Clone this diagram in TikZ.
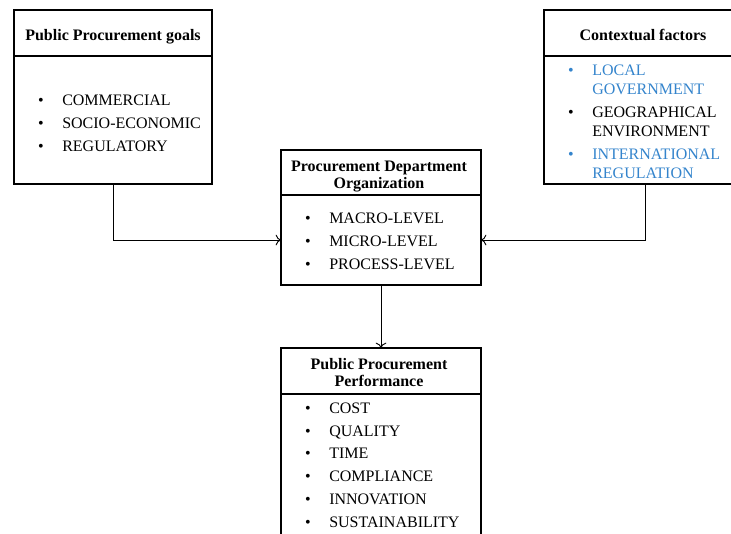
\documentclass[tikz,border=0pt]{standalone}
\usepackage{fontspec}
\setmainfont{Liberation Serif}
\usepackage{xcolor}
\usetikzlibrary{
    arrows.meta,
    positioning,
    calc
}
\definecolor{ctxblue}{RGB}{52, 132, 204}
% extra room above a node text, to push it a little lower
\newcommand{\pushdown}[2]{\raisebox{0pt}[\dimexpr\height+#1\relax]{#2}}

\begin{document}
\begin{tikzpicture}[
        x=0.75pt, y=-0.75pt,
        headbox/.style={draw, line width=1.4pt, outer sep=0pt, minimum height=34.5pt, align=center,
            inner sep=0pt, font=\fontsize{12}{12.75}\selectfont\bfseries},
        bodybox/.style={draw, line width=1.4pt, outer sep=0pt, inner xsep=18pt, inner ysep=0pt,
            align=left, font=\fontsize{12}{14.25}\selectfont},
        arrow/.style={->, line width=0.7pt, >={To[length=4pt, width=8pt]}}
    ]
        \useasboundingbox (0,0) rectangle (731,533);

        % Goals
        \node[headbox, minimum width=148.5pt] (goalshead) at (113,33) {\pushdown{6pt}{Public Procurement goals}};
        \node[bodybox, below=0pt of goalshead, minimum width=148.5pt, text width=112.5pt, minimum height=96pt] (goalsbody) {
            \pushdown{6.75pt}{\begin{tabular}{@{}l@{\hspace{14pt}}l@{}}
                \textbullet & COMMERCIAL\\[3pt]
                \textbullet & SOCIO-ECONOMIC\\[3pt]
                \textbullet & REGULATORY
            \end{tabular}}
        };

        % Contextual factors
        \node[headbox, minimum width=148.5pt] (ctxhead) at (643,33) {\pushdown{3pt}{Contextual factors}};
        \node[bodybox, below=0pt of ctxhead, minimum width=148.5pt, text width=112.5pt, minimum height=96pt] (ctxbody) {
            \pushdown{4.5pt}{\begin{tabular}{@{}l@{\hspace{14pt}}l@{}}
                \textcolor{ctxblue}{\textbullet} & \textcolor{ctxblue}{LOCAL}\\
                & \textcolor{ctxblue}{GOVERNMENT}\\[3pt]
                \textbullet & GEOGRAPHICAL\\
                & ENVIRONMENT\\[3pt]
                \textcolor{ctxblue}{\textbullet} & \textcolor{ctxblue}{INTERNATIONAL}\\
                & \textcolor{ctxblue}{REGULATION}
            \end{tabular}}
        };

        % Department organization
        \node[headbox, minimum width=150pt, minimum height=33.75pt] (orghead) at (381,172.5) {
            \pushdown{6.75pt}{\begin{tabular}{@{}c@{}}Procurement Department\\Organization\end{tabular}}
        };
        \node[bodybox, below=0pt of orghead, minimum width=150pt, text width=114pt, minimum height=67.5pt] (orgbody) {
            \pushdown{4.5pt}{\begin{tabular}{@{}l@{\hspace{14pt}}l@{}}
                \textbullet & MACRO-LEVEL\\[3pt]
                \textbullet & MICRO-LEVEL\\[3pt]
                \textbullet & PROCESS-LEVEL
            \end{tabular}}
        };

        % Performance
        \node[headbox, minimum width=150pt] (perfhead) at (381,371) {
            \pushdown{6pt}{\begin{tabular}{@{}c@{}}Public Procurement\\Performance\end{tabular}}
        };
        \node[bodybox, below=0pt of perfhead, minimum width=150pt, text width=114pt, minimum height=113.25pt,
            anchor=north, inner ysep=4.5pt, text depth=100pt] (perfbody) {
            \begin{tabular}[t]{@{}l@{\hspace{14pt}}l@{}}
                \textbullet & COST\\[2.85pt]
                \textbullet & QUALITY\\[2.85pt]
                \textbullet & TIME\\[2.85pt]
                \textbullet & COMPLIANCE\\[2.85pt]
                \textbullet & INNOVATION\\[2.85pt]
                \textbullet & SUSTAINABILITY
            \end{tabular}
        };

        % Arrows
        \draw[arrow] (goalsbody.south) |- (orgbody.west);
        \draw[arrow] ($(ctxbody.south)+(2,0)$) |- (orgbody.east);
        \draw[arrow] (orgbody.south) -- (perfhead.north);
    \end{tikzpicture}
\end{document}
